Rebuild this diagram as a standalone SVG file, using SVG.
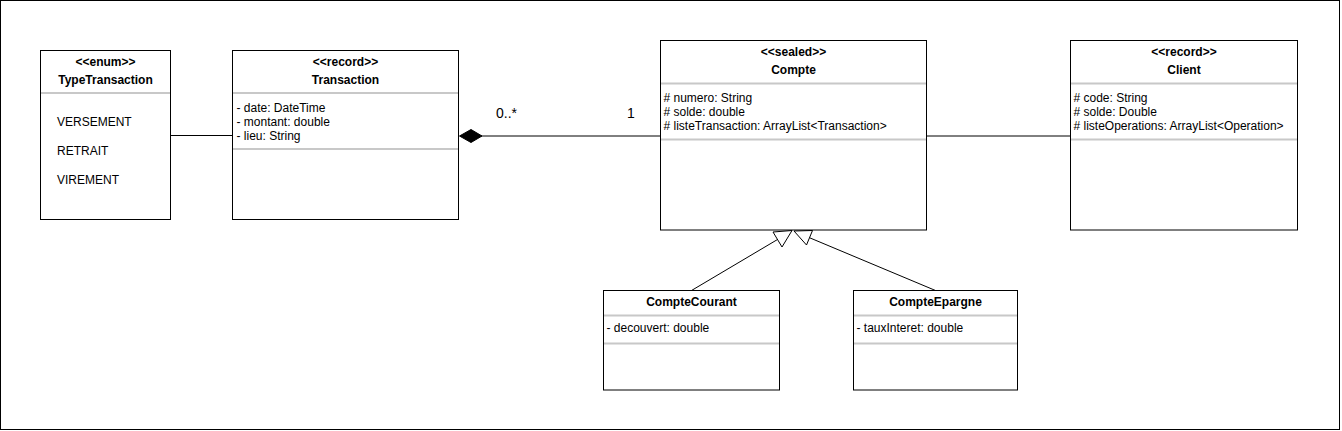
<svg xmlns="http://www.w3.org/2000/svg" width="1342" height="431" viewBox="0 0 1342 431">
<style>
.box{fill:#fff;stroke:#000;stroke-width:1}
.sep{stroke:#c8c8c8;stroke-width:2}
.t{font-family:"Liberation Sans",Arial,sans-serif;font-size:12px;fill:#000}
.b{font-weight:bold;text-anchor:middle}
.e{stroke:#000;stroke-width:1;fill:none}
.lbl{font-family:"Liberation Sans",Arial,sans-serif;font-size:14px;fill:#000}
</style>
<rect x="0" y="0" width="1342" height="431" fill="#fff"/>
<rect x="0.5" y="0.5" width="1339" height="429" fill="none" stroke="#000"/>
<g id="connectors">
<line class="e" x1="170.5" y1="135.5" x2="232.5" y2="135.5"/>
<line class="e" x1="481" y1="136" x2="660.5" y2="136"/>
<polygon points="459.5,136 471,129.5 482,136 471,142.5" fill="#000" stroke="#000"/>
<text class="lbl" x="496" y="118">0..*</text>
<text class="lbl" x="627" y="118">1</text>
<line class="e" x1="926.5" y1="136" x2="1070.5" y2="136"/>
<line class="e" x1="691.5" y1="290.5" x2="777.5" y2="239.5"/>
<polygon class="e" points="773,232 792,230.5 782,247" fill="#fff"/>
<line class="e" x1="935.5" y1="290.5" x2="809.7" y2="237.8"/>
<polygon class="e" points="794,231 812.5,230.5 806.5,245" fill="#fff"/>
</g>
<g id="TypeTransaction">
<rect class="box" x="40.5" y="50.5" width="130" height="169"/>
<line class="sep" x1="41" y1="93" x2="170" y2="93"/>
<text class="t b" x="105.5" y="66">&lt;&lt;enum&gt;&gt;</text>
<text class="t b" x="105.5" y="84">TypeTransaction</text>
<text class="t" x="57" y="126">VERSEMENT</text>
<text class="t" x="57" y="155">RETRAIT</text>
<text class="t" x="57" y="184">VIREMENT</text>
</g>
<g id="Transaction">
<rect class="box" x="232.5" y="50.5" width="226" height="169"/>
<line class="sep" x1="233" y1="93" x2="458" y2="93"/>
<line class="sep" x1="233" y1="149" x2="458" y2="149"/>
<text class="t b" x="345.5" y="65.5">&lt;&lt;record&gt;&gt;</text>
<text class="t b" x="345.5" y="83.5">Transaction</text>
<text class="t" x="236.5" y="111.5">- date: DateTime</text>
<text class="t" x="236.5" y="125.5">- montant: double</text>
<text class="t" x="236.5" y="139.5">- lieu: String</text>
</g>
<g id="Compte">
<rect class="box" x="660.5" y="40.5" width="266" height="189.5"/>
<line class="sep" x1="661" y1="83.5" x2="926" y2="83.5"/>
<line class="sep" x1="661" y1="139.5" x2="926" y2="139.5"/>
<text class="t b" x="793.5" y="55.5">&lt;&lt;sealed&gt;&gt;</text>
<text class="t b" x="793.5" y="73.5">Compte</text>
<text class="t" x="663.5" y="101.5"># numero: String</text>
<text class="t" x="663.5" y="115.5"># solde: double</text>
<text class="t" x="663.5" y="129.5"># listeTransaction: ArrayList&lt;Transaction&gt;</text>
</g>
<g id="Client">
<rect class="box" x="1070.5" y="40.5" width="227" height="189.5"/>
<line class="sep" x1="1071" y1="83.5" x2="1297" y2="83.5"/>
<line class="sep" x1="1071" y1="139.5" x2="1297" y2="139.5"/>
<text class="t b" x="1184" y="55.5">&lt;&lt;record&gt;&gt;</text>
<text class="t b" x="1184" y="73.5">Client</text>
<text class="t" x="1073.5" y="101.5"># code: String</text>
<text class="t" x="1073.5" y="115.5"># solde: Double</text>
<text class="t" x="1073.5" y="129.5"># listeOperations: ArrayList&lt;Operation&gt;</text>
</g>
<g id="CompteCourant">
<rect class="box" x="603.5" y="290.5" width="176" height="99.5"/>
<line class="sep" x1="604" y1="315.5" x2="779" y2="315.5"/>
<line class="sep" x1="604" y1="343.5" x2="779" y2="343.5"/>
<text class="t b" x="691.5" y="306">CompteCourant</text>
<text class="t" x="606.5" y="332">- decouvert: double</text>
</g>
<g id="CompteEpargne">
<rect class="box" x="853.5" y="290.5" width="164" height="99.5"/>
<line class="sep" x1="854" y1="315.5" x2="1017" y2="315.5"/>
<line class="sep" x1="854" y1="343.5" x2="1017" y2="343.5"/>
<text class="t b" x="935.5" y="306">CompteEpargne</text>
<text class="t" x="856.5" y="332">- tauxInteret: double</text>
</g>
</svg>
